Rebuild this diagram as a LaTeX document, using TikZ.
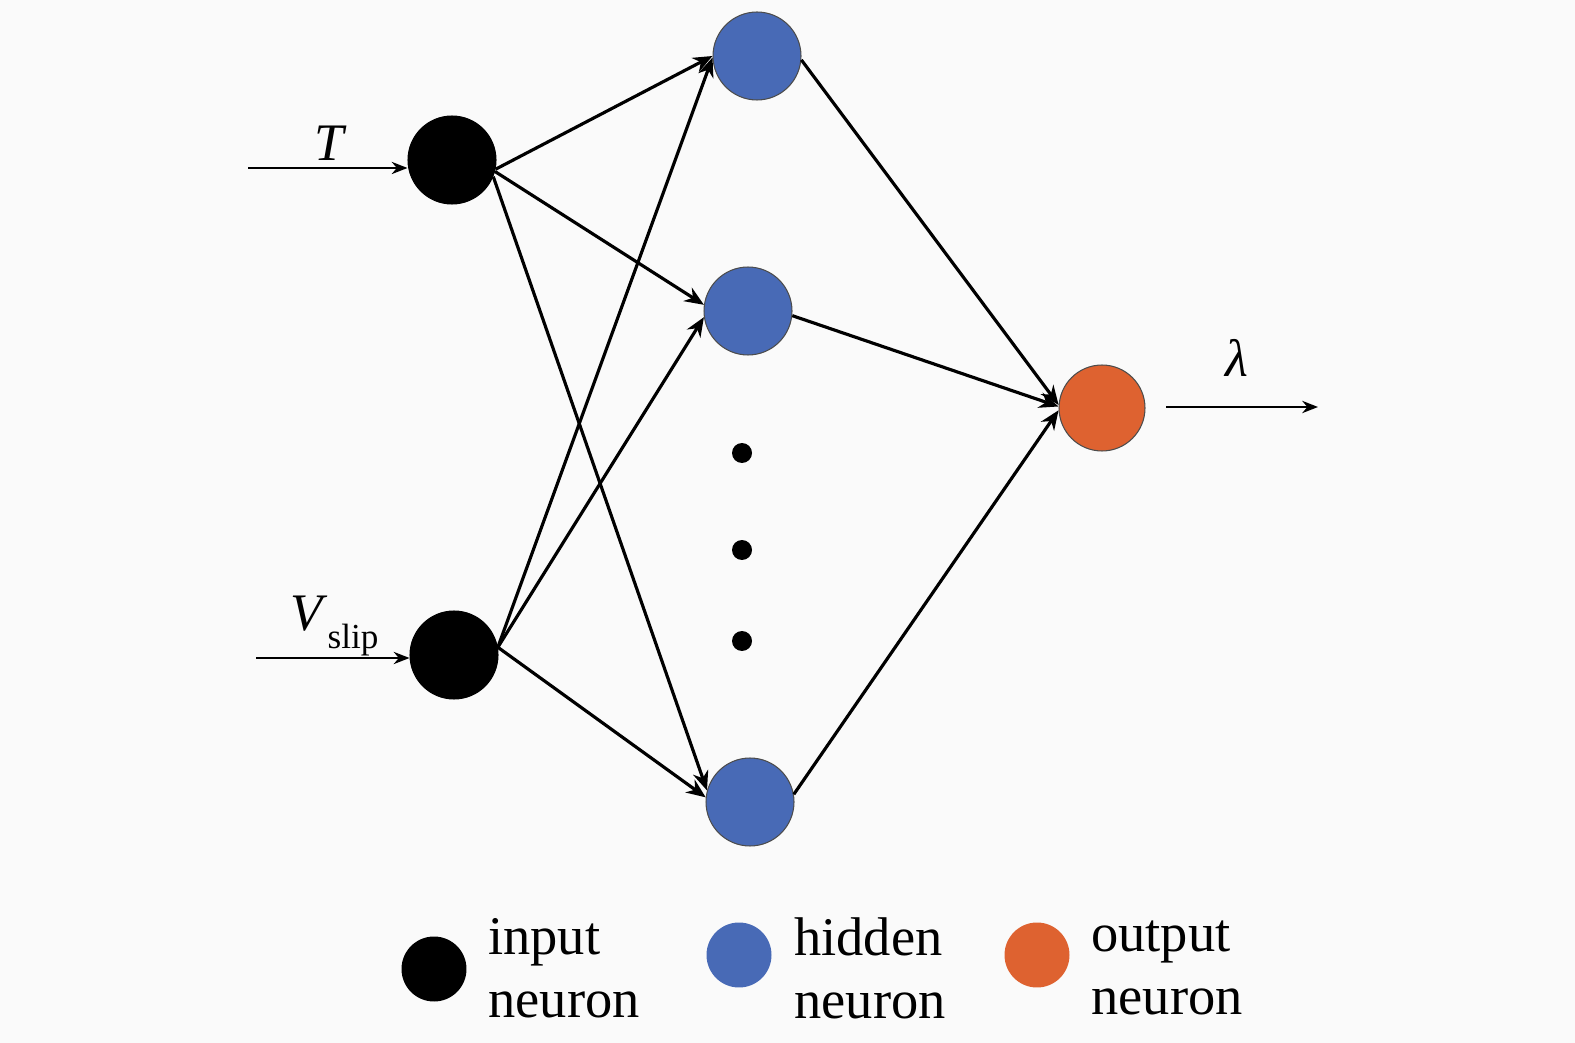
\documentclass[tikz,border=0pt]{standalone}
\usepackage{fontspec}
\setmainfont{Liberation Serif}
\usetikzlibrary{arrows.meta}
\definecolor{bg}{RGB}{250,250,250}
\definecolor{hidblue}{RGB}{72,106,182}
\definecolor{outorange}{RGB}{222,98,48}
\tikzset{
  neuron/.style={circle, inner sep=0pt, minimum size=1.76cm, draw=black!70, line width=0.6pt},
  inneuron/.style={neuron, fill=black, draw=black},
  hidneuron/.style={neuron, fill=hidblue},
  outneuron/.style={neuron, fill=outorange, minimum size=1.72cm},
  dotnode/.style={circle, fill=black, inner sep=0pt, minimum size=0.4cm},
  legcircle/.style={circle, inner sep=0pt, minimum size=1.3cm},
  link/.style={line width=1.8pt, -{Stealth[length=11pt,width=9pt]}},
  iolink/.style={line width=1.1pt, -{Stealth[length=9pt,width=7pt]}},
  lbl/.style={font=\fontsize{30}{36}\selectfont, inner sep=0pt},
  legtext/.style={font=\fontsize{31}{36}\selectfont, align=left, anchor=west, inner sep=0pt}
}
\begin{document}
\begin{tikzpicture}[x=0.02cm,y=-0.02cm]
\fill[bg] (0,0) rectangle (1575,1043);
\useasboundingbox (0,0) rectangle (1575,1043);

% neurons
\node[inneuron] (T) at (452,160) {};
\node[inneuron] (V) at (454,655) {};
\node[hidneuron] (H1) at (757,56) {};
\node[hidneuron] (H2) at (748,311) {};
\node[hidneuron] (H3) at (750,802) {};
\node[outneuron] (O) at (1102,408) {};
\node[dotnode] (d1) at (742,453) {};
\node[dotnode] (d2) at (742,550) {};
\node[dotnode] (d3) at (742,641) {};

% input arrows
\coordinate (tin) at (248,168);
\coordinate (vin) at (256,658);
\draw[iolink] (tin) -- (tin -| T.west);
\draw[iolink] (vin) -- (vin -| V.west);
\node[lbl] (Tl) at (331,143) {\textit{T}};
\node[lbl, anchor=base west] (Vl) at (290,630) {\textit{V}\raisebox{-0.35em}{\fontsize{20}{24}\selectfont slip}};

% output arrow
\coordinate (oa) at (1166,407);
\coordinate (ob) at (1318,407);
\draw[iolink] (oa) -- (ob);
\node[lbl] (lam) at (1237,358) {\textit{λ}};

% input -> hidden
\draw[link] (T.-12) -- (H1.180);
\draw[link] (T.-15) -- (H2.172);
\draw[link] (T.-22) -- (H3.165);
\draw[link] (V.10) -- (H1.182);
\draw[link] (V.10) -- (H2.188);
\draw[link] (V.10) -- (H3.174);

% hidden -> output
\draw[link] (H1.-5) -- (O.176);
\draw[link] (H2.-6) -- (O.178);
\draw[link] (H3.10) -- (O.183);

% legend
\node[legcircle, fill=black] (L1) at (434,969) {};
\node[legcircle, fill=hidblue] (L2) at (739,955) {};
\node[legcircle, fill=outorange] (L3) at (1037,955) {};
\node[legtext] (t1) at (488,968) {input\\neuron};
\node[legtext] (t2) at (794,968) {hidden\\neuron};
\node[legtext] (t3) at (1091,968) {output\\neuron};
\end{tikzpicture}
\end{document}
